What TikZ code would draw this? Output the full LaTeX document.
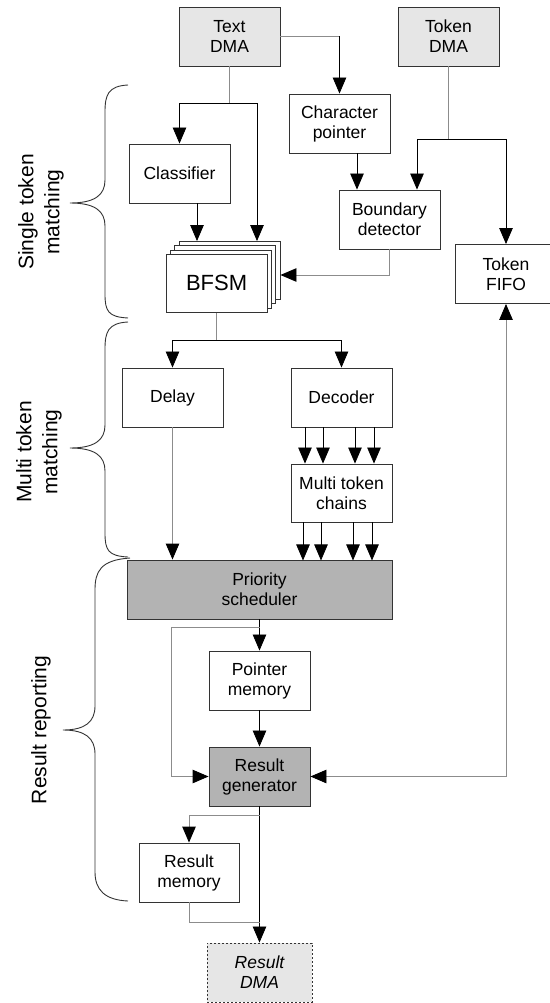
\documentclass[tikz,border=0pt]{standalone}
\usepackage{fontspec}
\setmainfont{Liberation Sans}
\usetikzlibrary{arrows.meta,calc}
\definecolor{lightfill}{HTML}{E6E6E6}
\definecolor{darkfill}{HTML}{B3B3B3}
\definecolor{edge}{HTML}{333333}
\definecolor{wire}{HTML}{8C8C8C}
\begin{document}
\begin{tikzpicture}[x=1pt,y=-1pt,
  blk/.style={draw=edge,line width=0.9pt,fill=white,minimum width=101pt,minimum height=59pt,inner sep=0pt,align=center,font=\fontsize{17.5}{20}\selectfont},
  >={Triangle[length=16pt,width=13.5pt,color=black]},
  ln/.style={draw=black,line width=0.8pt},
  lg/.style={draw=wire,line width=0.9pt},
  brc/.style={draw=edge,line width=0.9pt},
  side/.style={rotate=90,align=center,font=\fontsize{21}{26}\selectfont},
]
\useasboundingbox (0,0) rectangle (549,1003);

% boxes
\node[blk,fill=lightfill] (textdma) at (229.5,36.5) {Text\\DMA};
\node[blk,fill=lightfill] (tokendma) at (448.5,36.5) {Token\\DMA};
\node[blk] (charptr) at (339.5,123.5) {Character\\pointer};
\node[blk] (classifier) at (179.5,173.5) {Classifier};
\node[blk] (boundary) at (389.5,219.5) {Boundary\\detector};
\node[blk] (tokenfifo) at (506,274) {Token\\FIFO};
\node[blk,minimum height=58pt] (bfsm3) at (229.5,270.5) {};
\node[blk,minimum height=58pt] (bfsm2) at (225.2,274.8) {};
\node[blk,minimum height=58pt] (bfsm1) at (220.9,279.1) {};
\node[blk,minimum height=58pt,font=\fontsize{22}{24}\selectfont] (bfsm) at (216.6,283.4) {BFSM};
\node[blk] (delay) at (172.5,397.5) {Delay};
\node[blk] (decoder) at (341.5,397.5) {Decoder};
\node[blk,minimum height=58pt] (mtc) at (341.5,493) {Multi token\\chains};
\node[blk,fill=darkfill,minimum width=265pt] (priority) at (259.5,589.5) {Priority\\scheduler};
\node[blk] (ptrmem) at (259.5,680.5) {Pointer\\memory};
\node[blk,fill=darkfill] (resgen) at (259.5,776.5) {Result\\generator};
\node[blk,minimum width=100pt] (resmem) at (189,872.5) {Result\\memory};
\node[blk,fill=lightfill,dash pattern=on 2pt off 2pt,minimum width=105pt,font=\fontsize{17.5}{20}\selectfont\itshape] (resdma) at (259.5,972.5) {Result\\DMA};

% connectors
\coordinate (tj) at ($(textdma.south)+(0,37)$);
\draw[lg] (textdma.south) -- (tj);
\draw[ln,->] (tj) -| (classifier.north);
\draw[ln,->] (tj) -| ($(bfsm3.north)+(27.5,0)$);
\draw[ln,->] ($(classifier.south)+(17.5,0)$) -- ($(bfsm3.north)+(-32.5,0)$);

\coordinate (cj) at (textdma.east -| charptr.north);
\draw[lg] (textdma.east) -- (cj);
\draw[ln,->] (cj) -- (charptr.north);

\coordinate (cpo) at ($(charptr.south)+(17.5,0)$);
\draw[ln,->] (cpo) -- (cpo |- boundary.north);

\coordinate (kj) at ($(tokendma.south)+(0,73)$);
\coordinate (bdin) at ($(boundary.north)+(27.5,0)$);
\draw[lg] (tokendma.south) -- (kj);
\draw[ln,->] (kj) -| (bdin);
\draw[ln,->] (kj) -| (tokenfifo.north);

\coordinate (bfin) at ($(bfsm3.east)+(0,4.5)$);
\draw[lg,->] (boundary.south) |- (bfin);

\coordinate (fj) at ($(bfsm.south)+(0,27.5)$);
\draw[lg] (bfsm.south) -- (fj);
\draw[ln,->] (fj) -| (delay.north);
\draw[ln,->] (fj) -| (decoder.north);

\foreach \dx in {-36.5,-18.5,13.5,32.5}
  \draw[ln,->] ($(decoder.south)+(\dx,0)$) -- ($(mtc.north)+(\dx,0)$);
\foreach \dx in {-38.5,-20.5,11.5,30.5}
  \draw[ln,->] ($(mtc.south)+(\dx,0)$) -- ($(mtc.south)+(\dx,38)$);

\draw[lg,->] (delay.south) -- (delay.south |- priority.north);

\coordinate (pj) at ($(priority.south)+(0,8)$);
\draw[ln,->] (priority.south) -- (ptrmem.north);
\draw[lg,->] (pj) -- ++(-88.5,0) |- (resgen.west);
\draw[ln,->] (ptrmem.south) -- (resgen.north);
\draw[lg,<->] (resgen.east) -| (tokenfifo.south);

\coordinate (gj) at ($(resgen.south)+(0,9)$);
\draw[ln,->] (resgen.south) -- (resdma.north);
\draw[lg,->] (gj) -| (resmem.north);
\draw[lg] (resmem.south) |- ($(resgen.south)+(0,116)$);

% braces
\draw[brc] (128,85) .. controls (108,86) and (105,95) .. (105,112) -- (105,180)
  .. controls (105,195) and (95,203) .. (70,203)
  .. controls (95,203) and (105,211) .. (105,226) -- (105,294)
  .. controls (105,311) and (108,317) .. (128,318);
\draw[brc] (128,322) .. controls (108,323) and (105,332) .. (105,349) -- (105,425)
  .. controls (105,440) and (95,448) .. (70,448)
  .. controls (95,448) and (105,456) .. (105,471) -- (105,533)
  .. controls (105,550) and (108,556) .. (128,557);
\draw[brc] (130,558) .. controls (100,560) and (95,572) .. (95,590) -- (95,706)
  .. controls (95,722) and (85,730) .. (63,730)
  .. controls (85,730) and (95,738) .. (95,754) -- (95,872)
  .. controls (95,890) and (105,900) .. (128,901);

% side labels
\node[side] (lab1) at (41,212) {Single token\\matching};
\node[side] (lab2) at (39,452) {Multi token\\matching};
\node[side] (lab3) at (41,730) {Result reporting};
\end{tikzpicture}
\end{document}
